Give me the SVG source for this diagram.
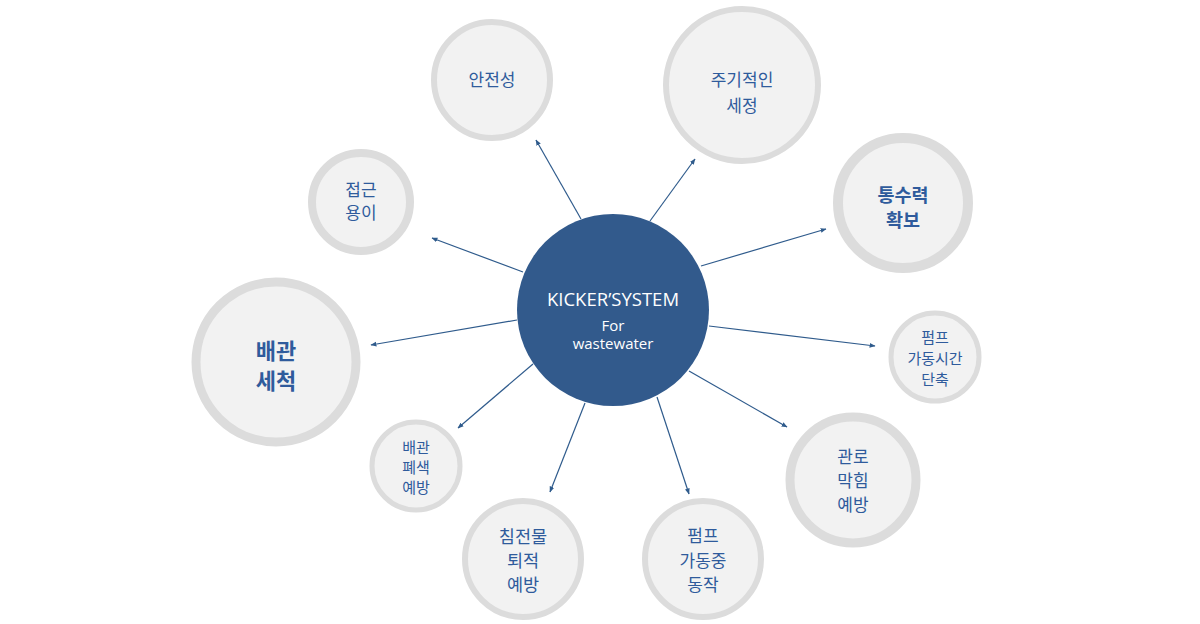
<svg xmlns="http://www.w3.org/2000/svg" width="1200" height="624" viewBox="0 0 1200 624">
<defs>
<style>
.n{fill:#F2F2F2;stroke:#DCDCDC}
.t{font-family:"Noto Sans CJK KR","Noto Sans",sans-serif;fill:#2F5B9C;text-anchor:middle}
.b{font-weight:bold}
.c{stroke:#2F5B8C;stroke-width:1.2;fill:none;marker-end:url(#ah)}
.w{font-family:"Open Sans","Noto Sans",sans-serif;fill:#FFFFFF;text-anchor:middle}
</style>
<marker id="ah" viewBox="0 0 10 10" refX="9" refY="5" markerWidth="6" markerHeight="6" orient="auto" markerUnits="userSpaceOnUse">
<path d="M0,1 L10,5 L0,9 Z" fill="#2F5B8C"/>
</marker>
</defs>
<rect width="1200" height="624" fill="#FFFFFF"/>
<g id="connectors">
<line class="c" x1="581" y1="219" x2="536" y2="140"/>
<line class="c" x1="650" y1="221" x2="695" y2="159"/>
<line class="c" x1="701" y1="266" x2="826" y2="229"/>
<line class="c" x1="709" y1="326" x2="875" y2="346"/>
<line class="c" x1="689" y1="371" x2="787" y2="427"/>
<line class="c" x1="657" y1="397" x2="689" y2="494"/>
<line class="c" x1="585" y1="403" x2="550" y2="492"/>
<line class="c" x1="533" y1="364" x2="458" y2="428"/>
<line class="c" x1="517" y1="320" x2="371" y2="345"/>
<line class="c" x1="523" y1="272" x2="432" y2="238"/>
</g>
<g id="center">
<circle cx="613" cy="310" r="96" fill="#325A8C"/>
<text class="w" x="613" y="306" font-size="18.5">KICKER’SYSTEM</text>
<text class="w" x="613" y="331" font-size="15">For</text>
<text class="w" x="613" y="349" font-size="15">wastewater</text>
</g>
<g id="n-safety">
<circle class="n" cx="492" cy="80" r="58" stroke-width="6"/>
<text class="t" x="492" y="86" font-size="17">안전성</text>
</g>
<g id="n-periodic">
<circle class="n" cx="742" cy="85" r="76" stroke-width="6"/>
<text class="t" x="742" y="86" font-size="17">주기적인</text>
<text class="t" x="742" y="112" font-size="17">세정</text>
</g>
<g id="n-flow">
<circle class="n" cx="903" cy="203" r="65" stroke-width="10"/>
<text class="t b" x="903" y="202" font-size="18.5">통수력</text>
<text class="t b" x="903" y="227" font-size="18.5">확보</text>
</g>
<g id="n-pumptime">
<circle class="n" cx="935" cy="357" r="44" stroke-width="5"/>
<text class="t" x="935" y="343" font-size="15">펌프</text>
<text class="t" x="935" y="364" font-size="15">가동시간</text>
<text class="t" x="935" y="385" font-size="15">단축</text>
</g>
<g id="n-pipeblock">
<circle class="n" cx="853" cy="480" r="63" stroke-width="9"/>
<text class="t" x="853" y="463" font-size="17">관로</text>
<text class="t" x="853" y="487" font-size="17">막힘</text>
<text class="t" x="853" y="511" font-size="17">예방</text>
</g>
<g id="n-pumprun">
<circle class="n" cx="703" cy="559" r="58" stroke-width="6"/>
<text class="t" x="703" y="542" font-size="17">펌프</text>
<text class="t" x="703" y="567" font-size="17">가동중</text>
<text class="t" x="703" y="591" font-size="17">동작</text>
</g>
<g id="n-sediment">
<circle class="n" cx="523" cy="559" r="58" stroke-width="6"/>
<text class="t" x="523" y="543" font-size="17.5">침전물</text>
<text class="t" x="523" y="567" font-size="17.5">퇴적</text>
<text class="t" x="523" y="591" font-size="17.5">예방</text>
</g>
<g id="n-clog">
<circle class="n" cx="416" cy="466" r="44" stroke-width="5"/>
<text class="t" x="416" y="453" font-size="15">배관</text>
<text class="t" x="416" y="473" font-size="15">폐색</text>
<text class="t" x="416" y="493" font-size="15">예방</text>
</g>
<g id="n-wash">
<circle class="n" cx="276" cy="362" r="80" stroke-width="9"/>
<text class="t b" x="276" y="359" font-size="22">배관</text>
<text class="t b" x="276" y="389" font-size="22">세척</text>
</g>
<g id="n-access">
<circle class="n" cx="361" cy="202" r="49" stroke-width="8"/>
<text class="t" x="361" y="196" font-size="17">접근</text>
<text class="t" x="361" y="219" font-size="17">용이</text>
</g>
</svg>
